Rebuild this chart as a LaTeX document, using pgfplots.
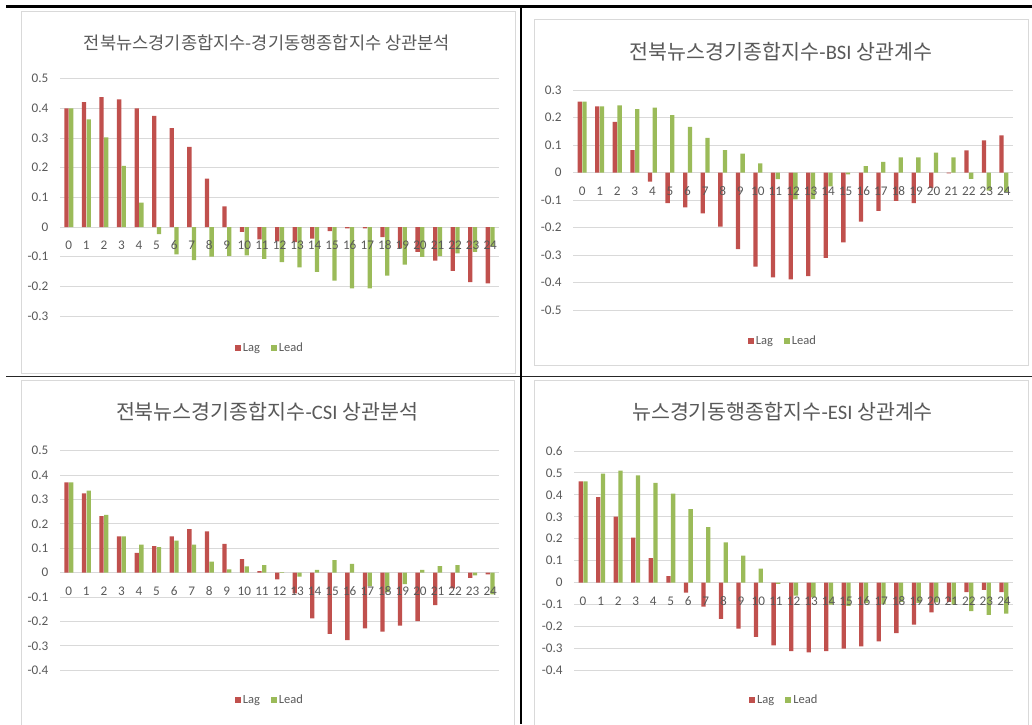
\documentclass[border=0pt]{standalone}
\usepackage{pgfplots}
\pgfplotsset{compat=1.18}
\usepackage{pgfplotstable}
\usepackage{fontspec}
\setmainfont{Carlito}
\newfontfamily\kr{Noto Sans CJK KR}

\definecolor{lagred}{HTML}{C0504D}
\definecolor{leadgreen}{HTML}{9BBB59}
\definecolor{txtgray}{HTML}{595959}
\definecolor{gridgray}{HTML}{D9D9D9}

% cross-correlation coefficients by lag/lead month
\pgfplotstableread{
k   lag     lead
0   0.400   0.400
1   0.421   0.363
2   0.438   0.302
3   0.430   0.206
4   0.400   0.082
5   0.375  -0.024
6   0.333  -0.092
7   0.270  -0.112
8   0.163  -0.100
9   0.070  -0.097
10 -0.016  -0.096
11 -0.042  -0.107
12 -0.048  -0.118
13 -0.051  -0.136
14 -0.039  -0.151
15 -0.014  -0.181
16 -0.005  -0.207
17 -0.005  -0.207
18 -0.034  -0.164
19 -0.070  -0.127
20 -0.084  -0.101
21 -0.113  -0.098
22 -0.148  -0.089
23 -0.186  -0.084
24 -0.190  -0.065
}\tblA

\pgfplotstableread{
k   lag     lead
0   0.258   0.258
1   0.241   0.241
2   0.184   0.244
3   0.082   0.231
4  -0.033   0.236
5  -0.111   0.209
6  -0.126   0.166
7  -0.148   0.126
8  -0.196   0.082
9  -0.278   0.069
10 -0.341   0.034
11 -0.380  -0.024
12 -0.388  -0.097
13 -0.376  -0.096
14 -0.310  -0.050
15 -0.253  -0.006
16 -0.178   0.024
17 -0.139   0.039
18 -0.103   0.055
19 -0.111   0.055
20 -0.055   0.073
21 -0.003   0.055
22  0.081  -0.023
23  0.117  -0.065
24  0.135  -0.070
}\tblB

\pgfplotstableread{
k   lag     lead
0   0.370   0.370
1   0.325   0.336
2   0.232   0.237
3   0.149   0.149
4   0.081   0.115
5   0.109   0.105
6   0.149   0.131
7   0.179   0.115
8   0.169   0.045
9   0.118   0.014
10  0.056   0.026
11  0.007   0.031
12 -0.027   0.002
13 -0.085  -0.016
14 -0.187   0.012
15 -0.251   0.052
16 -0.276   0.036
17 -0.228  -0.055
18 -0.241  -0.080
19 -0.217  -0.047
20 -0.198   0.012
21 -0.133   0.027
22 -0.064   0.031
23 -0.021  -0.011
24 -0.007  -0.089
}\tblC

\pgfplotstableread{
k   lag     lead
0   0.461   0.461
1   0.390   0.497
2   0.301   0.510
3   0.205   0.489
4   0.111   0.455
5   0.030   0.406
6  -0.046   0.335
7  -0.110   0.253
8  -0.166   0.183
9  -0.210   0.123
10 -0.247   0.064
11 -0.286  -0.006
12 -0.312  -0.060
13 -0.318  -0.068
14 -0.312  -0.100
15 -0.301  -0.106
16 -0.291  -0.093
17 -0.268  -0.098
18 -0.231  -0.088
19 -0.192  -0.092
20 -0.136  -0.090
21 -0.088  -0.100
22 -0.044  -0.130
23 -0.033  -0.147
24 -0.044  -0.141
}\tblD

\pgfplotsset{
  corrbase/.style={
    scale only axis,
    xmin=-0.5, xmax=24.5,
    xtick={0,...,24},
    enlarge x limits=false,
    axis x line=middle,
    axis y line=left,
    y axis line style={draw=none},
    major tick length=0pt,
    hide obscured x ticks=false,
    hide obscured y ticks=false,
    /pgf/number format/assume math mode=true,
    tick label style={font=\fontsize{13.2}{15}\selectfont, text=txtgray},
    xticklabel style={anchor=center, yshift=-18.5pt},
    yticklabel style={anchor=east, inner sep=0pt, xshift=-11.5pt},
  },
  % bars, grid and legend; category labels are left to the overlay
  corrbars/.style={
    corrbase,
    ybar=0.4pt, bar width=4.3pt,
    x axis line style={-, draw=gridgray, line width=0.9pt},
    ymajorgrids,
    grid style={gridgray, line width=0.9pt},
    xticklabels={},
    legend columns=-1,
    legend style={draw=none, fill=none, anchor=center,
      font=\fontsize{12.5}{15}\selectfont, text=txtgray,
      /tikz/every even column/.append style={column sep=9pt}},
    legend image code/.code={\fill[##1, draw=none] (0pt,-3pt) rectangle (6pt,3pt);},
  },
  % category labels drawn above the bars
  corrlabels/.style={
    corrbase,
    x axis line style={draw=none},
    yticklabels={},
  },
  lagbar/.style={fill=lagred, draw=none},
  leadbar/.style={fill=leadgreen, draw=none},
}

% #1 position, #2 width, #3 height, #4 ymin, #5 ymax, #6 y ticks, #7 legend position, #8 table
\newcommand\corrpanel[8]{%
  \begin{axis}[corrbars, at={#1}, anchor=south west,
    width=#2, height=#3, ymin=#4, ymax=#5, ytick={#6},
    legend style={at={#7}}]
  \addplot[lagbar] table[x=k, y=lag] {#8};
  \addplot[leadbar] table[x=k, y=lead] {#8};
  \legend{Lag, Lead}
  \end{axis}
  \begin{axis}[corrlabels, at={#1}, anchor=south west,
    width=#2, height=#3, ymin=#4, ymax=#5, ytick={#6}]
  \end{axis}%
}

\begin{document}
\begin{tikzpicture}
\path[use as bounding box] (0pt,0pt) rectangle (1032pt,724pt);

% chart-area frames
\draw[gridgray, line width=0.9pt] (21pt,713pt) rectangle (515pt,351pt);
\draw[gridgray, line width=0.9pt] (534pt,705pt) rectangle (1028pt,359pt);
\draw[gridgray, line width=0.9pt] (21pt,-5pt) -- (21pt,344pt) -- (514pt,344pt) -- (514pt,-5pt);
\draw[gridgray, line width=0.9pt] (534pt,-5pt) -- (534pt,344pt) -- (1028pt,344pt) -- (1028pt,-5pt);

% table rules
\draw[black, line width=2.6pt] (6pt,717.5pt) -- (1032pt,717.5pt);
\draw[black!85, line width=1.8pt] (6pt,347.5pt) -- (1032pt,347.5pt);
\draw[black, line width=1.7pt] (520.8pt,718pt) -- (520.8pt,0pt);

% titles
\node[text=txtgray, font=\kr\fontsize{17.6}{20}\selectfont] at (267pt,681pt)
  {전북뉴스경기종합지수-경기동행종합지수 상관분석};
\node[text=txtgray, font=\fontsize{20.6}{24}\selectfont] at (781pt,672pt)
  {{\kr 전북뉴스경기종합지수}-BSI {\kr 상관계수}};
\node[text=txtgray, font=\fontsize{20.6}{24}\selectfont] at (267pt,312.3pt)
  {{\kr 전북뉴스경기종합지수}-CSI {\kr 상관분석}};
\node[text=txtgray, font=\fontsize{20.6}{24}\selectfont] at (782.5pt,312.3pt)
  {{\kr 뉴스경기동행종합지수}-ESI {\kr 상관계수}};

\corrpanel{(60pt,408pt)}{439pt}{237.3pt}{-0.3}{0.5}
  {-0.3,-0.2,-0.1,0,0.1,0.2,0.3,0.4,0.5}{(0.478,-0.135)}{\tblA}
\corrpanel{(573.3pt,413.7pt)}{439.4pt}{220.3pt}{-0.5}{0.3}
  {-0.5,-0.4,-0.3,-0.2,-0.1,0,0.1,0.2,0.3}{(0.477,-0.139)}{\tblB}
\corrpanel{(60pt,53.7pt)}{439pt}{219.6pt}{-0.4}{0.5}
  {-0.4,-0.3,-0.2,-0.1,0,0.1,0.2,0.3,0.4,0.5}{(0.478,-0.135)}{\tblC}
\corrpanel{(574.3pt,53.7pt)}{438.4pt}{219.3pt}{-0.4}{0.6}
  {-0.4,-0.3,-0.2,-0.1,0,0.1,0.2,0.3,0.4,0.5,0.6}{(0.479,-0.135)}{\tblD}
\end{tikzpicture}
\end{document}
